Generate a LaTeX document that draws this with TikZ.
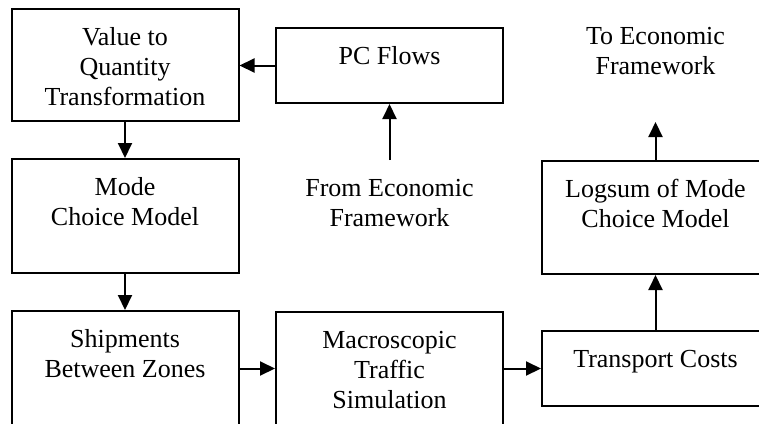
\documentclass[tikz,border=0pt]{standalone}
\usepackage{fontspec}
\setmainfont{Liberation Serif}
\usetikzlibrary{arrows.meta}
\begin{document}
\begin{tikzpicture}[x=.5pt,y=-.5pt,line width=1pt,font=\fontsize{13}{15}\selectfont,
box/.style={draw,anchor=north,text width=113.5pt,align=flush center,inner xsep=0pt,inner ysep=7.5pt,text height=10.5pt,text depth=#1},
txt/.style={anchor=north,text width=120pt,align=flush center,inner sep=0pt,text height=10.5pt},
arr/.style={-{Triangle[length=7.5pt,width=7pt]}}]
\clip (0,0) rectangle (759,423);
\node[box=30.5pt] (V) at (125,8) {Value to\\Quantity\\Transformation};
\node[box=12pt] (P) at (389.5,27) {PC Flows};
\node[box=31.5pt] (M) at (125,158) {Mode\\Choice Model};
\node[box=49.5pt] (S) at (125,310) {Shipments\\Between Zones};
\node[box=49.5pt] (T) at (389.5,311) {Macroscopic\\Traffic\\Simulation};
\node[box=12pt] (C) at (655.5,330) {Transport Costs};
\node[box=31pt] (L) at (655.5,160) {Logsum of Mode\\Choice Model};
\node[txt] (F) at (389.5,174) {From Economic\\Framework};
\node[txt] (E) at (655.5,22) {To Economic\\Framework};
\coordinate (F0) at (389.5,160);
\coordinate (E0) at (655.5,122);
\draw[arr] (P.west)--(V.east|-P.west);
\draw[arr] (F0)--(P.south);
\draw[arr] (V.south)--(M.north);
\draw[arr] (M.south)--(S.north);
\draw[arr] (S.east|-C.west)--(T.west|-C.west);
\draw[arr] (T.east|-C.west)--(C.west);
\draw[arr] (C.north)--(L.south);
\draw[arr] (L.north)--(E0);
\end{tikzpicture}
\end{document}
